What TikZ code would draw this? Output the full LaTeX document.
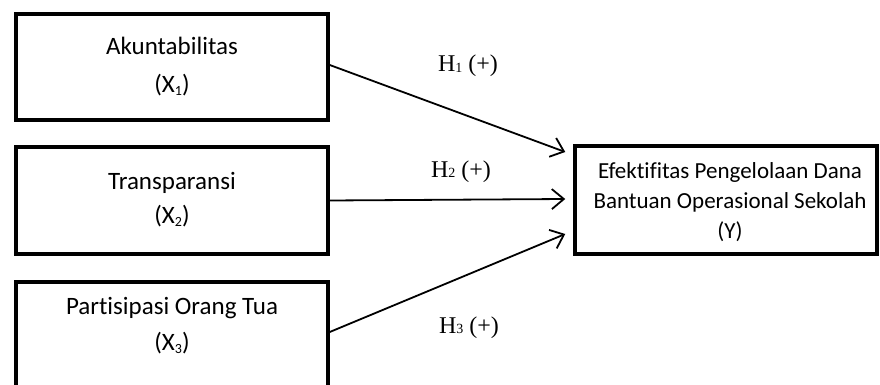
\documentclass[tikz,border=0pt]{standalone}
\usepackage{fontspec}
\setmainfont{Carlito}[Ligatures={NoCommon}]
\newfontfamily\tnr{Liberation Serif}
\usetikzlibrary{arrows.meta}
\newcommand\mysub[1]{\raisebox{-0.12em}{\fontsize{14}{14}\selectfont #1}}
\newcommand\mysubh[1]{\raisebox{-0.02em}{\fontsize{14}{14}\selectfont #1}}
\begin{document}
\begin{tikzpicture}[x=1pt,y=1pt,
  box/.style={draw, line width=3.5pt, inner sep=0pt},
  boxtext/.style={anchor=base, font=\fontsize{25}{30}\selectfont, inner sep=0pt},
  ytext/.style={anchor=base, font=\fontsize{23}{28}\selectfont, inner sep=0pt},
  hyp/.style={anchor=base, font=\tnr\fontsize{24}{29}\selectfont, inner sep=0pt},
  conn/.style={line width=1.8pt, -{Straight Barb[length=12pt,width=20pt,line width=1.8pt]}}]
\useasboundingbox (0,0) rectangle (880,-385);
\clip (0,0) rectangle (880,-385);
% boxes
\node[box, minimum width=312, minimum height=106] (x1) at (172,-67) {};
\node[box, minimum width=312, minimum height=107] (x2) at (172,-200.5) {};
\node[box, minimum width=312, minimum height=130] (x3) at (172,-347) {};
\node[box, minimum width=302, minimum height=108] (y) at (726,-200) {};
% texts
\node[boxtext] (x1a) at (172,-55) {Akuntabilitas};
\node[boxtext] (x1b) at (172,-93) {(X\mysub{1})};
\node[boxtext] (x2a) at (172,-189) {Transparansi};
\node[boxtext] (x2b) at (172,-223) {(X\mysub{2})};
\node[boxtext] (x3a) at (172,-314) {Partisipasi Orang Tua};
\node[boxtext] (x3b) at (172,-350) {(X\mysub{3})};
\node[ytext] (ya) at (730,-178) {Efektifitas Pengelolaan Dana};
\node[ytext] (yb) at (730,-208) {Bantuan Operasional Sekolah};
\node[ytext] (yc) at (730,-238) {(Y)};
% hypothesis labels
\node[hyp] (h1) at (468,-72) {H\mysubh{1} (+)};
\node[hyp] (h2) at (461,-177) {H\mysubh{2} (+)};
\node[hyp] (h3) at (469,-333) {H\mysubh{3} (+)};
% connectors
\draw[conn] ([yshift=2]x1.east) -- ([shift={(-8,48)}]y.west);
\draw[conn] (x2.east) -- ([shift={(-8,1)}]y.west);
\draw[conn] ([yshift=15]x3.east) -- ([shift={(-8,-34)}]y.west);
\end{tikzpicture}
\end{document}
